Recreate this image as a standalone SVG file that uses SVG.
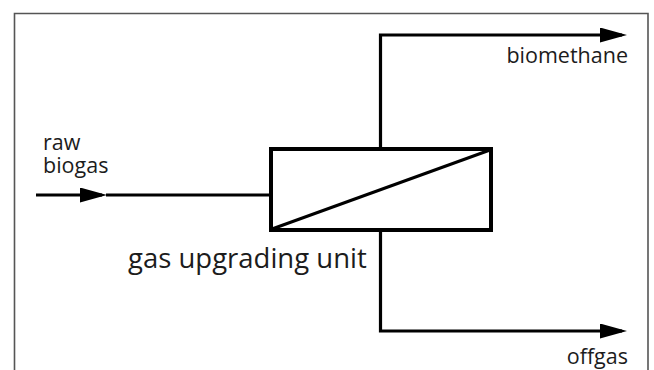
<svg xmlns="http://www.w3.org/2000/svg" width="654" height="370" viewBox="0 0 654 370">
<defs>
<style>
.frame{fill:none;stroke:#555;stroke-width:1.6}
.flow{fill:none;stroke:#000;stroke-width:3.2}
.box{fill:#fff;stroke:#000;stroke-width:4}
.diag{stroke:#000;stroke-width:3}
.lbl{font-family:"Open Sans","Liberation Sans",sans-serif;font-size:21.5px;fill:#1c1c1c}
.big{font-family:"Open Sans","Liberation Sans",sans-serif;font-size:27.5px;fill:#1c1c1c}
</style>
<marker id="ah" viewBox="0 0 27 15" refX="22" refY="7.5" markerWidth="27" markerHeight="15" markerUnits="userSpaceOnUse" orient="auto">
<path d="M0,0 L27,7.5 L0,15 Z" fill="#000"/>
</marker>
</defs>
<path class="frame" d="M14.5,372 V13.5 H648 V372"/>
<g id="connectors">
<path id="in-arrow" class="flow" d="M36,195 H102" marker-end="url(#ah)"/>
<path id="in-line" class="flow" d="M106,195 H271"/>
<path id="out-biomethane" class="flow" d="M380.5,149 V35 H622" marker-end="url(#ah)"/>
<path id="out-offgas" class="flow" d="M380.5,230 V331 H622" marker-end="url(#ah)"/>
</g>
<g id="unit">
<rect class="box" x="271" y="149" width="220" height="81"/>
<line class="diag" x1="272" y1="229" x2="490" y2="150"/>
<text class="big" x="128" y="268">gas upgrading unit</text>
</g>
<g id="raw-biogas">
<text class="lbl" x="43" y="150">raw<tspan x="43" y="173">biogas</tspan></text>
</g>
<g id="biomethane">
<text class="lbl" x="628" y="63" text-anchor="end">biomethane</text>
</g>
<g id="offgas">
<text class="lbl" x="628" y="364" text-anchor="end">offgas</text>
</g>
</svg>
